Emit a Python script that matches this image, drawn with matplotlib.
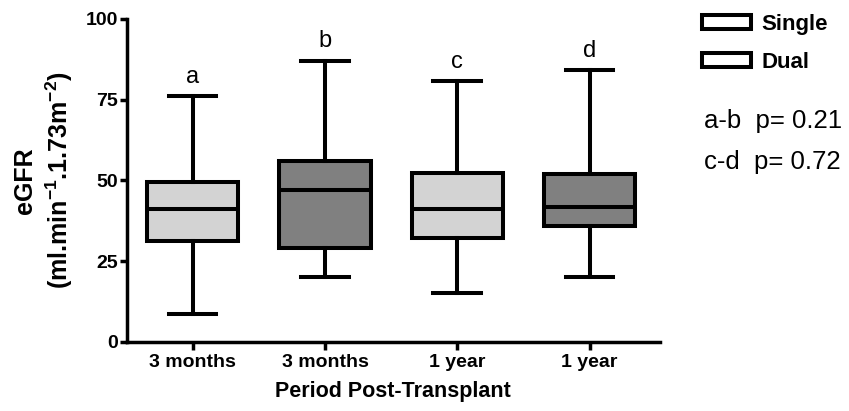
import matplotlib
matplotlib.use("Agg")
import matplotlib.pyplot as plt
from matplotlib.patches import Patch

plt.rcParams['font.family'] = ['Liberation Sans', 'DejaVu Sans']
plt.rcParams['mathtext.fontset'] = 'custom'
plt.rcParams['mathtext.rm'] = 'Liberation Sans:bold'
plt.rcParams['mathtext.bf'] = 'Liberation Sans:bold'
plt.rcParams['mathtext.default'] = 'bf'

# box statistics
groups = ["3 months", "3 months", "1 year", "1 year"]
lows = [8.6, 19.9, 15.2, 19.9]
q1s = [31.3, 29.0, 32.1, 35.7]
medians = [41.1, 47.1, 41.1, 41.7]
q3s = [49.5, 56.1, 52.3, 52.1]
highs = [76.1, 87.1, 80.7, 84.1]
letters = ["a", "b", "c", "d"]
kinds = ["Single", "Dual", "Single", "Dual"]
pvals = ["a-b  p= 0.21", "c-d  p= 0.72"]

colors = {"Single": "#d3d3d3", "Dual": "#808080"}
lw = 2.9
axlw = 2.5

stats = []
for i in range(len(groups)):
    stats.append(dict(med=medians[i], q1=q1s[i], q3=q3s[i],
                      whislo=lows[i], whishi=highs[i], fliers=[]))

fig = plt.figure(figsize=(8.49, 4.11), dpi=100)
ax = fig.add_axes([0.149, 0.1686, 0.628, 0.7854])

pos = list(range(1, len(groups) + 1))
bp = ax.bxp(stats, positions=pos, widths=0.69, patch_artist=True,
            showfliers=False,
            boxprops=dict(linewidth=lw, edgecolor="black"),
            medianprops=dict(linewidth=lw, color="black"),
            whiskerprops=dict(linewidth=lw, color="black"),
            capprops=dict(linewidth=lw, color="black"),
            capwidths=0.36)
for box, k in zip(bp["boxes"], kinds):
    box.set_facecolor(colors[k])

for p, h, t in zip(pos, highs, letters):
    ax.text(p, h + 2.5, t, ha="center", va="bottom", fontsize=17)

ax.set_xlim(0.5, 4.53)
ax.set_ylim(0, 100)
ax.set_yticks([0, 25, 50, 75, 100])
ax.set_xticks(pos)
ax.set_xticklabels(groups, fontsize=14, fontweight="bold")
for lab in ax.get_yticklabels():
    lab.set_fontsize(14)
    lab.set_fontweight("bold")
ax.spines["top"].set_visible(False)
ax.spines["right"].set_visible(False)
ax.spines["left"].set_linewidth(axlw)
ax.spines["bottom"].set_linewidth(axlw)
ax.tick_params(axis="y", length=5, width=axlw, pad=1)
ax.tick_params(axis="x", length=6, width=axlw, pad=3)

ax.set_xlabel("Period Post-Transplant", fontsize=15.5, fontweight="bold", labelpad=7)
ax.set_ylabel("eGFR\n(ml.min$^{-1}$.1.73m$^{-2}$)", fontsize=18,
              fontweight="bold", labelpad=8, linespacing=1.25)

handles = [Patch(facecolor="white", edgecolor="black", linewidth=lw, label=k)
           for k in ["Single", "Dual"]]
leg = fig.legend(handles=handles, loc="upper left", bbox_to_anchor=(0.803, 1.015),
                 frameon=False, prop=dict(weight="bold", size=16),
                 handlelength=2.2, handleheight=0.6, labelspacing=0.75,
                 handletextpad=0.5)

fig.text(0.829, 0.705, pvals[0], fontsize=18.5, va="center")
fig.text(0.829, 0.607, pvals[1], fontsize=18.5, va="center")

fig.savefig("out.png", dpi=100)
